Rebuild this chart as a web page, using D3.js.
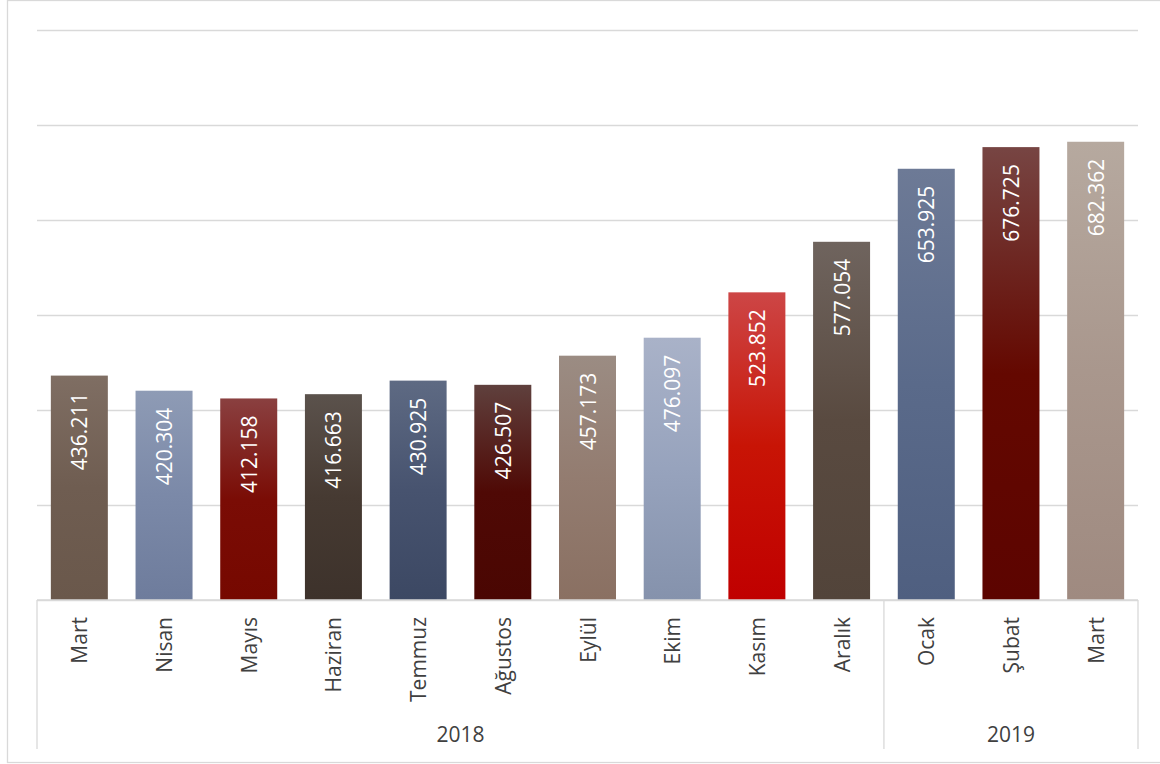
<!DOCTYPE html>
<html lang="tr">
<head>
    <meta charset="UTF-8">
    <title>Aylık değerler 2018-2019</title>
    <script src="https://d3js.org/d3.v7.min.js"></script>
    <style>
        body { margin: 0; background: #fff; }
        text { font-family: "Open Sans", "Noto Sans", sans-serif; }
    </style>
</head>
<body>
    <div id="chart-container"></div>

    <script>
        // data
        const months = ["Mart", "Nisan", "Mayıs", "Haziran", "Temmuz", "Ağustos", "Eylül",
                        "Ekim", "Kasım", "Aralık", "Ocak", "Şubat", "Mart"];
        const values = [436.211, 420.304, 412.158, 416.663, 430.925, 426.507, 457.173,
                        476.097, 523.852, 577.054, 653.925, 676.725, 682.362];
        const monthYears = ["2018", "2018", "2018", "2018", "2018", "2018", "2018",
                            "2018", "2018", "2018", "2019", "2019", "2019"];
        const gridTicks = [200, 300, 400, 500, 600, 700, 800];

        // top / bottom colour of each bar's gradient
        const barTop = ["#7f6e63", "#8e9bb5", "#8a4040", "#5b524c", "#5e6a83", "#5f403d", "#9b8c83",
                        "#a9b2c8", "#cd4646", "#6f645e", "#6d7a96", "#774543", "#b6a99f"];
        const barMid = ["#6f5d51", "#7b89a8", "#7a0c05", "#463a32", "#47536f", "#4f0905", "#937c70",
                        "#97a3bd", "#c81405", "#594a40", "#5a6a8a", "#640800", "#a9978d"];
        const barBottom = ["#6a584b", "#6e7c9c", "#760800", "#3d322b", "#3c4863", "#4a0602", "#8a7062",
                           "#8592ac", "#c00000", "#52443a", "#4f5f80", "#5c0400", "#9f8a80"];

        const W = 1160, H = 764;
        const plot = { left: 37, right: 1138, top: 30, bottom: 600 };
        const axisBottom = 749;

        const svg = d3.select("#chart-container")
            .append("svg")
            .attr("width", W)
            .attr("height", H);

        // chart border
        svg.append("rect")
            .attr("x", 7.5).attr("y", 0.5)
            .attr("width", W).attr("height", 762)
            .attr("fill", "none")
            .attr("stroke", "#d9d9d9")
            .attr("stroke-width", 1.3);

        const x = d3.scaleBand()
            .domain(d3.range(months.length))
            .range([plot.left, plot.right])
            .paddingInner(0.327)
            .paddingOuter(0.1635);

        const y = d3.scaleLinear()
            .domain([200, 800])
            .range([plot.bottom, plot.top]);

        // gridlines (value axis itself is hidden)
        const grid = svg.append("g")
            .attr("transform", `translate(${plot.left},0)`)
            .call(d3.axisLeft(y).tickValues(gridTicks).tickSize(-(plot.right - plot.left)).tickFormat(""));
        grid.select(".domain").remove();
        grid.selectAll(".tick line")
            .attr("stroke", "#d9d9d9")
            .attr("stroke-width", 1.3);

        const defs = svg.append("defs");
        values.forEach((v, i) => {
            const g = defs.append("linearGradient")
                .attr("id", "grad" + i)
                .attr("x1", 0).attr("y1", 0).attr("x2", 0).attr("y2", 1);
            g.append("stop").attr("offset", "0%").attr("stop-color", barTop[i]);
            g.append("stop").attr("offset", "50%").attr("stop-color", barMid[i]);
            g.append("stop").attr("offset", "100%").attr("stop-color", barBottom[i]);
        });

        svg.append("g").selectAll("rect")
            .data(values)
            .join("rect")
            .attr("x", (d, i) => x(i))
            .attr("y", d => y(d))
            .attr("width", x.bandwidth())
            .attr("height", d => y(200) - y(d))
            .attr("fill", (d, i) => `url(#grad${i})`);

        // value labels, rotated inside the bar top
        svg.append("g").selectAll("text")
            .data(values)
            .join("text")
            .attr("transform", (d, i) => `translate(${x(i) + x.bandwidth() / 2},${y(d) + 17}) rotate(-90)`)
            .attr("text-anchor", "end")
            .attr("dominant-baseline", "central")
            .attr("fill", "#ffffff")
            .style("font-size", "21px")
            .text(d => d3.format(".3f")(d));

        // category axis: month row + year row
        const axisColor = "#d9d9d9";
        svg.append("line")
            .attr("x1", plot.left).attr("x2", plot.right)
            .attr("y1", plot.bottom).attr("y2", plot.bottom)
            .attr("stroke", axisColor).attr("stroke-width", 1.3);

        svg.append("g").selectAll("text")
            .data(months)
            .join("text")
            .attr("transform", (d, i) => `translate(${x(i) + x.bandwidth() / 2},617) rotate(-90)`)
            .attr("text-anchor", "end")
            .attr("dominant-baseline", "central")
            .attr("fill", "#404040")
            .style("font-size", "21px")
            .text(d => d);

        const groups = d3.groups(monthYears.map((yr, i) => ({ yr, i })), d => d.yr)
            .map(([yr, items]) => ({ yr, first: items[0].i, last: items[items.length - 1].i }));

        const edge = i => plot.left + i * x.step();
        const seps = [0].concat(groups.map(g => g.last + 1));
        svg.append("g").selectAll("line")
            .data(seps)
            .join("line")
            .attr("x1", d => edge(d)).attr("x2", d => edge(d))
            .attr("y1", plot.bottom).attr("y2", axisBottom)
            .attr("stroke", axisColor).attr("stroke-width", 1.3);

        svg.append("g").selectAll("text")
            .data(groups)
            .join("text")
            .attr("x", g => (edge(g.first) + edge(g.last + 1)) / 2)
            .attr("y", 742)
            .attr("text-anchor", "middle")
            .attr("fill", "#404040")
            .style("font-size", "21px")
            .text(g => g.yr);
    </script>
</body>
</html>
